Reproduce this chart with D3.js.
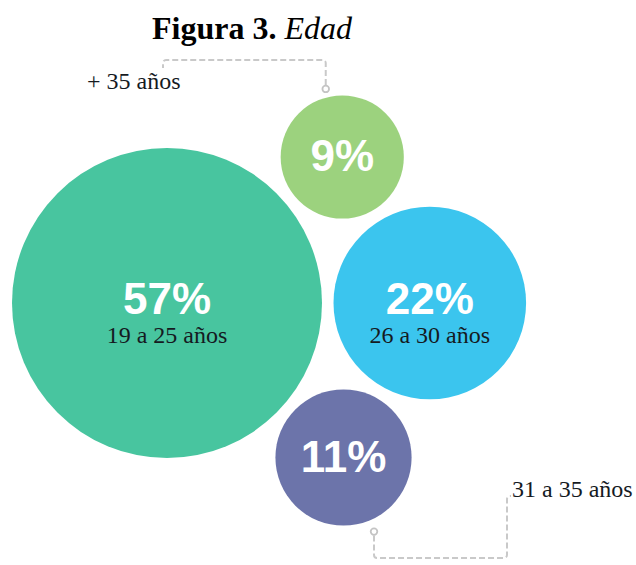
<!DOCTYPE html>
<html>
<head>
<meta charset="utf-8">
<script src="https://cdn.jsdelivr.net/npm/d3@7"></script>
<style>
  body { margin: 0; background: #fff; }
  svg { display: block; }
</style>
</head>
<body>
<svg id="chart"></svg>
<script>
// datos de la figura
const groups = ["19 a 25 años", "26 a 30 años", "31 a 35 años", "+ 35 años"];
const shares = [57, 22, 11, 9];
const colors = ["#48c59f", "#3bc5ee", "#6c74aa", "#9cd27e"];

const width = 636, height = 565;
const svg = d3.select("#chart").attr("width", width).attr("height", height);

// radio proporcional al área
const r = d3.scaleSqrt().domain([0, 57]).range([0, 155]);

// circulo grande en (167,303), los demas alrededor con un hueco fijo
const main = { x: 167, y: 303 };
const gap = 11.5;
const angles = [null, 0, 41.2, -39.8];

const nodes = groups.map((g, i) => {
    const rad = r(shares[i]);
    if (i === 0) return { g, v: shares[i], c: colors[i], r: rad, x: main.x, y: main.y };
    const d = r(shares[0]) + rad + gap;
    const a = angles[i] * Math.PI / 180;
    return { g, v: shares[i], c: colors[i], r: rad, x: main.x + d * Math.cos(a), y: main.y + d * Math.sin(a) };
});

svg.selectAll("circle.bubble")
    .data(nodes)
    .join("circle")
    .attr("class", "bubble")
    .attr("cx", d => d.x)
    .attr("cy", d => d.y)
    .attr("r", d => d.r)
    .attr("fill", d => d.c);

const inside = [true, true, false, false];

svg.selectAll("text.pct")
    .data(nodes)
    .join("text")
    .attr("class", "pct")
    .attr("x", d => d.x)
    .attr("y", (d, i) => d.y + (inside[i] ? 11 : 14))
    .attr("text-anchor", "middle")
    .style("font-family", "'Liberation Sans', Arial, sans-serif")
    .style("font-weight", "bold")
    .style("font-size", "44px")
    .style("fill", "#fff")
    .text(d => d.v + "%");

svg.selectAll("text.lab")
    .data(nodes.filter((d, i) => inside[i]))
    .join("text")
    .attr("class", "lab")
    .attr("x", d => d.x)
    .attr("y", d => d.y + 40)
    .attr("text-anchor", "middle")
    .style("font-family", "'Liberation Serif', 'Times New Roman', serif")
    .style("font-size", "24px")
    .style("fill", "#151a1f")
    .text(d => d.g);

// conectores punteados, esquinas redondeadas
function connector(pts, ring) {
    const p = d3.path();
    p.moveTo(pts[0][0], pts[0][1]);
    for (let i = 1; i < pts.length - 1; i++) {
        p.arcTo(pts[i][0], pts[i][1], pts[i + 1][0], pts[i + 1][1], 3);
    }
    const last = pts[pts.length - 1];
    p.lineTo(last[0], last[1]);
    svg.append("path")
        .attr("d", p.toString())
        .attr("fill", "none")
        .attr("stroke", "#c9c9c9")
        .attr("stroke-width", 2)
        .attr("stroke-dasharray", "6,3");
    svg.append("circle")
        .attr("cx", ring[0]).attr("cy", ring[1]).attr("r", 3.3)
        .attr("fill", "#fff").attr("stroke", "#c4c4c4").attr("stroke-width", 1.8);
}

// + 35 años
const n3 = nodes[3];
const ringTop = [n3.x - 16.5, n3.y - n3.r - 6.5];
connector([[ringTop[0], ringTop[1] - 4], [ringTop[0], 60], [163, 60], [163, 68]], ringTop);
svg.append("text")
    .attr("x", 87).attr("y", 89)
    .style("font-family", "'Liberation Serif', 'Times New Roman', serif")
    .style("font-size", "24px")
    .style("fill", "#151a1f")
    .text(n3.g);

// 31 a 35 años
const n2 = nodes[2];
const ringBot = [n2.x + 30.5, n2.y + n2.r + 6];
connector([[ringBot[0], ringBot[1] + 4], [ringBot[0], 558], [507, 558], [507, 496], [511, 496]], ringBot);
svg.append("text")
    .attr("x", 512).attr("y", 497)
    .style("font-family", "'Liberation Serif', 'Times New Roman', serif")
    .style("font-size", "24px")
    .style("fill", "#151a1f")
    .text(n2.g);

// titulo
const title = svg.append("text")
    .attr("x", 252).attr("y", 39)
    .attr("text-anchor", "middle")
    .style("font-family", "'Liberation Serif', 'Times New Roman', serif")
    .style("font-size", "32px")
    .style("fill", "#000");
title.append("tspan").style("font-weight", "bold").text("Figura 3. ");
title.append("tspan").style("font-style", "italic").text("Edad");
</script>
</body>
</html>
